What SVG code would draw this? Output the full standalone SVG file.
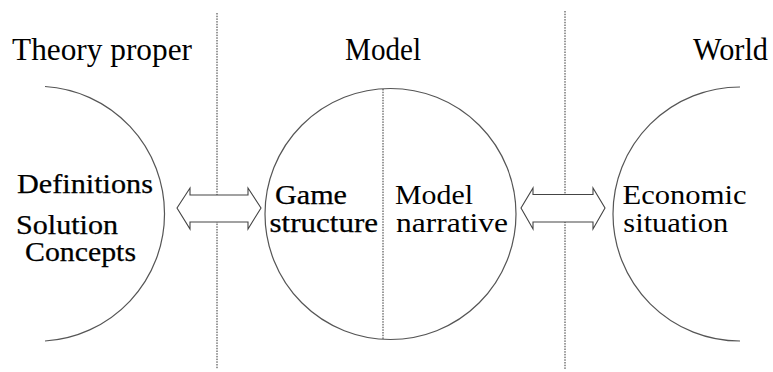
<svg xmlns="http://www.w3.org/2000/svg" width="773" height="372" viewBox="0 0 773 372">
<style>
text{font-family:'Liberation Serif','DejaVu Serif',serif;fill:#000}
.h{font-size:31px}
.b{font-size:27px}
.k{stroke:#000;stroke-width:0.25}
.c{fill:none;stroke:#555;stroke-width:1.2}
.d{fill:none;stroke:#333;stroke-width:1;stroke-dasharray:1.5 1.2}
.a{fill:#fff;stroke:#444;stroke-width:1.1;stroke-linejoin:miter}
</style>
<rect width="773" height="372" fill="#fff"/>
<g id="dividers">
<line class="d" x1="217" y1="13" x2="217" y2="369"/>
<line class="d" x1="565" y1="11" x2="565" y2="370"/>
</g>
<g id="headers">
<text class="h" x="12" y="59.5" textLength="180" lengthAdjust="spacingAndGlyphs">Theory proper</text>
<text class="h" x="345" y="59.5" textLength="76" lengthAdjust="spacingAndGlyphs">Model</text>
<text class="h" x="693" y="59.5" textLength="75" lengthAdjust="spacingAndGlyphs">World</text>
</g>
<g id="theory">
<path class="c" d="M45,86.5 A127.5,127.5 0 0 1 45,341"/>
<text class="b k" x="17" y="193" textLength="136" lengthAdjust="spacingAndGlyphs">Definitions</text>
<text class="b k" x="16" y="234" textLength="102" lengthAdjust="spacingAndGlyphs">Solution</text>
<text class="b k" x="25" y="261" textLength="111" lengthAdjust="spacingAndGlyphs">Concepts</text>
</g>
<g id="model">
<circle class="c" cx="390.5" cy="214" r="125.5"/>
<line class="d" x1="383" y1="89" x2="383" y2="339.5"/>
<text class="b k" x="275" y="203.5" textLength="72" lengthAdjust="spacingAndGlyphs">Game</text>
<text class="b k" x="269.5" y="231.7" textLength="108.5" lengthAdjust="spacingAndGlyphs">structure</text>
<text class="b" x="395" y="203.5" textLength="78" lengthAdjust="spacingAndGlyphs">Model</text>
<text class="b" x="396" y="231.7" textLength="112" lengthAdjust="spacingAndGlyphs">narrative</text>
</g>
<g id="world">
<path class="c" d="M740,87 A127,127 0 1 0 740,341"/>
<text class="b" x="622.5" y="204.3" textLength="124" lengthAdjust="spacingAndGlyphs">Economic</text>
<text class="b" x="623.3" y="231.7" textLength="105" lengthAdjust="spacingAndGlyphs">situation</text>
</g>
<g id="connectors">
<polygon class="a" points="177,208 190,188 190,195 248,195 248,188 261,208 248,229 248,222 190,222 190,229"/>
<polygon class="a" points="521,208 533,188 533,194.5 593,194.5 593,188 605,208 593,229 593,222 533,222 533,229"/>
</g>
</svg>
